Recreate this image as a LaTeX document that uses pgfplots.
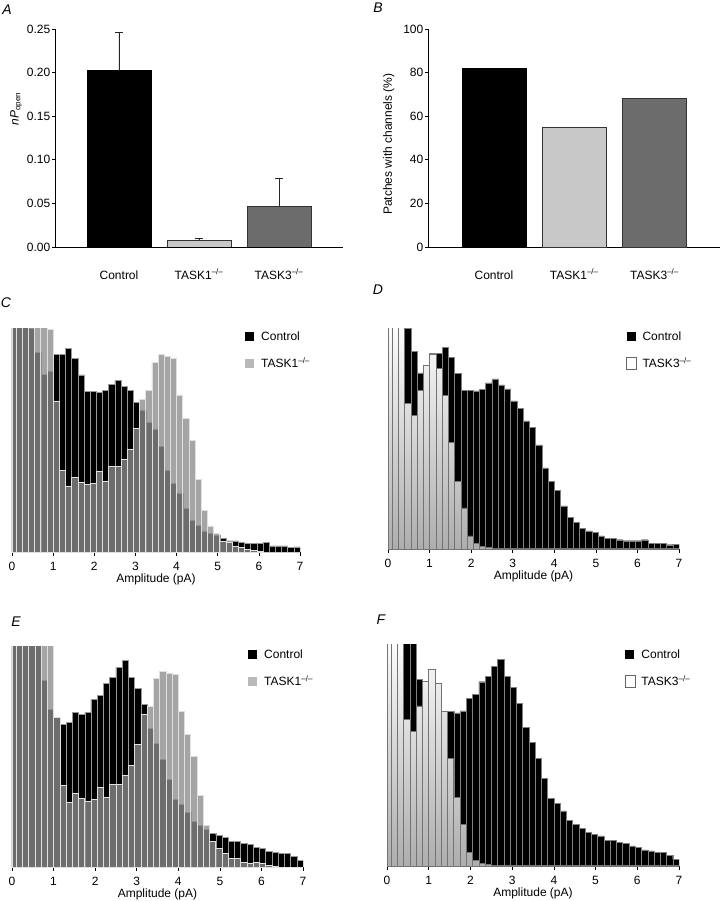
\documentclass[border=0pt]{standalone}
\usepackage{fontspec}
\setmainfont{Liberation Sans}
\usepackage{pgfplots}
\usepackage{pgfplotstable}
\pgfplotsset{compat=1.18}
\newcommand\fs{\fontsize{12pt}{14pt}\selectfont}
\newcommand\pl{\fontsize{14pt}{16pt}\selectfont\itshape}
\definecolor{tone}{RGB}{140,140,140}
\definecolor{lg}{RGB}{200,200,200}
\definecolor{dg}{RGB}{108,108,108}

% bin left edges (pA); columns: control (C/D), TASK1 (C), control (E/F), TASK1 (E), TASK3 (D/F)
\pgfplotstableread{
x    cc  t1c  ce  t1e  t3
0.00 700 700 700 700 700
0.10 700 700 700 700 700
0.25 700 700 700 700 700
0.40 668 700 700 700 440
0.55 598 700 700 700 404
0.70 532 700 560 700 480
0.85 542 667 473 700 554
1.00 592 452 448 450 589
1.15 592 245 427 245 546
1.30 610 198 433 195 464
1.45 580 223 463 221 322
1.60 530 208 459 205 205
1.75 480 202 465 198 124
1.90 480 205 502 203 40
2.05 478 242 514 240 16
2.20 483 212 552 209 8
2.35 502 255 568 249 4
2.50 514 255 598 249 1
2.65 496 277 619 274 1
2.80 484 308 569 305 1
2.95 448 369 536 367 1
3.10 425 457 487 458 1
3.25 387 484 415 482 1
3.40 368 568 370 565 1
3.55 315 590 322 588 1
3.70 245 585 263 580 1
3.85 205 580 202 578 1
4.00 177 470 188 468 1
4.15 130 399 165 397 1
4.30 95  335 137 333 1
4.45 80  218 125 215 1
4.60 63  125 112 125 1
4.75 55  78  100 77  1
4.90 50  55  95  55  1
5.05 40  33  90  40  1
5.20 33  30  77  25  1
5.35 33  18  77  25  1
5.50 28  13  70  15  1
5.65 25  8   67  10  1
5.80 25  4   60  15  1
5.95 25  2   55  12  1
6.10 28  0   48  5   1
6.25 18  0   45  3   1
6.40 18  0   40  0   1
6.55 18  0   40  0   1
6.70 13  0   32  0   1
6.85 15  0   20  0   1
7.00 0   0   0   0   1
}\hist

\newcommand\swblack{\pgfsetfillcolor{black}\pgfpathrectangle{\pgfpoint{0pt}{-4.5pt}}{\pgfpoint{9pt}{9pt}}\pgfusepath{fill}\pgfpathrectangle{\pgfpoint{0pt}{0pt}}{\pgfpoint{14pt}{0pt}}\pgfusepath{discard}}
\newcommand\swgray{\pgfsetfillcolor{black!35}\pgfpathrectangle{\pgfpoint{0pt}{-4.5pt}}{\pgfpoint{9pt}{9pt}}\pgfusepath{fill}\pgfpathrectangle{\pgfpoint{0pt}{0pt}}{\pgfpoint{14pt}{0pt}}\pgfusepath{discard}}
\newcommand\swwhite{\pgfsetfillcolor{white}\pgfsetstrokecolor{black!60}\pgfsetlinewidth{0.6pt}\pgfpathrectangle{\pgfpoint{0pt}{-6pt}}{\pgfpoint{10pt}{12pt}}\pgfusepath{fill,stroke}\pgfpathrectangle{\pgfpoint{0pt}{0pt}}{\pgfpoint{14pt}{0pt}}\pgfusepath{discard}}

\pgfplotsset{
 tick label style={font=\fs},
 label style={font=\fs},
 /pgf/number format/assume math mode=true,
 bars/.style={
  scale only axis, ybar, bar width=0.8,
  axis lines=left,
  axis line style={-, black, line width=0.7pt},
  every outer x axis line/.append style={-},
  every outer y axis line/.append style={-},
  tick align=outside, major tick length=3pt,
  ytick style={black, line width=0.6pt}, xtick style={draw=none},
  xtick={0,1,2},
  xticklabels={Control, TASK1\textsuperscript{–/–}, TASK3\textsuperscript{–/–}},
  xticklabel style={anchor=base, yshift=-29pt},
  yticklabel style={inner sep=1.5pt},
  ymin=0,
 },
 hist/.style={
  scale only axis,
  axis x line=bottom, axis y line=none,
  axis line style={-, black, line width=0.6pt},
  every outer x axis line/.append style={-},
  xmin=0, xmax=7, ymin=0,
  xtick={0,1,2,3,4,5,6,7},
  tick align=outside, major tick length=3.5pt,
  tick style={black, line width=0.6pt},
  xticklabel style={anchor=base, yshift=-14.5pt},
  xlabel={Amplitude (pA)},
  xlabel style={at={(axis description cs:0.5,0)}, anchor=base, yshift=-30pt},
  legend style={draw=none, fill=none, anchor=north west, inner sep=0pt, row sep=12pt, font=\fs},
  legend cell align=left,
 },
}

\begin{document}
\begin{tikzpicture}
\path[use as bounding box] (0pt,0pt) rectangle (720pt,-901pt);

% ---------------- A ----------------
\begin{axis}[bars, at={(55pt,-247pt)}, anchor=south west, width=288pt, height=218pt,
  xmin=-0.8, xmax=2.8, ymax=0.25,
  ytick={0,0.05,0.1,0.15,0.2,0.25},
  yticklabel style={/pgf/number format/.cd, fixed, fixed zerofill, precision=2},
  ylabel={{\itshape n\kern0.3pt P}\textsubscript{open}},
  ylabel style={at={(axis description cs:-0.135,0.633)}, anchor=center}]
\addplot[bar shift=0pt, fill=black, draw=black,
  error bars/.cd, y dir=plus, y explicit,
  error bar style={black!85, line width=0.6pt},
  error mark options={rotate=90, black!85, mark size=4pt, line width=0.6pt}]
  coordinates {(0,0.2022) +- (0,0.0436)};
\addplot[bar shift=0pt, fill=lg, draw=black!80, line width=0.6pt,
  error bars/.cd, y dir=plus, y explicit,
  error bar style={black!85, line width=0.6pt},
  error mark options={rotate=90, black!85, mark size=4pt, line width=0.6pt}]
  coordinates {(1,0.0080) +- (0,0.0023)};
\addplot[bar shift=0pt, fill=dg, draw=black!80, line width=0.6pt,
  error bars/.cd, y dir=plus, y explicit,
  error bar style={black!85, line width=0.6pt},
  error mark options={rotate=90, black!85, mark size=4pt, line width=0.6pt}]
  coordinates {(2,0.0470) +- (0,0.0313)};
\end{axis}

% ---------------- B ----------------
\begin{axis}[bars, at={(428pt,-247pt)}, anchor=south west, width=292pt, height=218pt,
  xmin=-0.822, xmax=2.816, ymax=100,
  ytick={0,20,40,60,80,100},
  ylabel={Patches with channels (\%)},
  ylabel style={at={(axis description cs:-0.134,0.472)}, anchor=center}]
\addplot[bar shift=0pt, fill=black, draw=black] coordinates {(0,82)};
\addplot[bar shift=0pt, fill=lg, draw=black!80, line width=0.6pt] coordinates {(1,55)};
\addplot[bar shift=0pt, fill=dg, draw=black!80, line width=0.6pt] coordinates {(2,68)};
\end{axis}

% ---------------- C ----------------
\begin{axis}[hist, at={(12pt,-552pt)}, anchor=south west, width=288pt, height=224pt,
  ymax=670, legend style={at={(0.809,0.995)}}]
\addplot[ybar interval, fill=black, draw=black!40, line width=0.4pt,
  legend image code/.code={\swblack}]
  table[x=x, y=cc] {\hist};
\addlegendentry{Control}
\addplot[ybar interval, fill=tone, fill opacity=0.784, draw=white!88!black, line width=0.6pt,
  legend image code/.code={\swgray}]
  table[x=x, y=t1c] {\hist};
\addlegendentry{TASK1\textsuperscript{–/–}}
\end{axis}

% ---------------- D ----------------
\begin{axis}[hist, at={(388pt,-549pt)}, anchor=south west, width=291pt, height=221pt,
  ymax=668, legend style={at={(0.818,0.995)}}]
\addplot[ybar interval, fill=black, draw=black!50, line width=0.4pt,
  legend image code/.code={\swblack}]
  table[x=x, y=cc] {\hist};
\addlegendentry{Control}
\addplot[ybar interval, top color=white, bottom color=black!32, draw=black!55, line width=0.5pt,
  legend image code/.code={\swwhite}]
  table[x=x, y=t3] {\hist};
\addlegendentry{TASK3\textsuperscript{–/–}}
\end{axis}

% ---------------- E ----------------
\begin{axis}[hist, at={(12pt,-867pt)}, anchor=south west, width=291pt, height=221pt,
  ymax=663, legend style={at={(0.811,0.995)}}]
\addplot[ybar interval, fill=black, draw=black!40, line width=0.4pt,
  legend image code/.code={\swblack}]
  table[x=x, y=ce] {\hist};
\addlegendentry{Control}
\addplot[ybar interval, fill=tone, fill opacity=0.784, draw=white!88!black, line width=0.6pt,
  legend image code/.code={\swgray}]
  table[x=x, y=t1e] {\hist};
\addlegendentry{TASK1\textsuperscript{–/–}}
\end{axis}

% ---------------- F ----------------
\begin{axis}[hist, at={(387pt,-866pt)}, anchor=south west, width=292pt, height=222pt,
  ymax=665, legend style={at={(0.815,0.986)}}]
\addplot[ybar interval, fill=black, draw=black!50, line width=0.4pt,
  legend image code/.code={\swblack}]
  table[x=x, y=ce] {\hist};
\addlegendentry{Control}
\addplot[ybar interval, top color=white, bottom color=black!32, draw=black!55, line width=0.5pt,
  legend image code/.code={\swwhite}]
  table[x=x, y=t3] {\hist};
\addlegendentry{TASK3\textsuperscript{–/–}}
\end{axis}

% panel letters
\node[font=\pl] at (7pt,-10pt) {A};
\node[font=\pl] at (378pt,-8pt) {B};
\node[font=\pl] at (6pt,-303pt) {C};
\node[font=\pl] at (378pt,-290pt) {D};
\node[font=\pl] at (16pt,-622pt) {E};
\node[font=\pl] at (381pt,-620pt) {F};
\end{tikzpicture}
\end{document}
